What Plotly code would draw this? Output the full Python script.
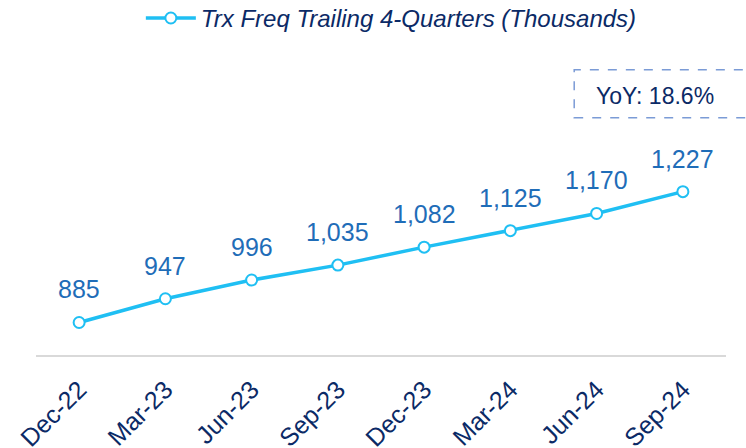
import plotly.graph_objects as go

quarters = ["Dec-22", "Mar-23", "Jun-23", "Sep-23", "Dec-23", "Mar-24", "Jun-24", "Sep-24"]
trx_freq = [885, 947, 996, 1035, 1082, 1125, 1170, 1227]
series_name = "Trx Freq Trailing 4-Quarters (Thousands)"
yoy_text = "YoY: 18.6%"

LINE = "#1fbff3"
LABEL = "#1f6db8"
NAVY = "#0b2a66"
FONT = "Liberation Sans, Arial, sans-serif"

fig = go.Figure()
fig.add_trace(go.Scatter(
    x=quarters, y=trx_freq, name=series_name,
    mode="lines+markers",
    line=dict(color=LINE, width=3.5),
    marker=dict(symbol="circle", size=11, color="white",
                line=dict(color=LINE, width=2)),
    showlegend=True,
))

# value labels above each point
for q, v in zip(quarters, trx_freq):
    fig.add_annotation(x=q, y=v, text=f"{v:,}", showarrow=False,
                       xanchor="center", yanchor="middle",
                       yshift=33, font=dict(family=FONT, size=25, color=LABEL))

# YoY callout box
fig.add_shape(type="rect", xref="paper", yref="paper",
              x0=0.78, x1=1.05, y0=0.775, y1=0.932,
              line=dict(color="#7b9bd6", width=1.5, dash="dash"),
              fillcolor="rgba(0,0,0,0)")
fig.add_annotation(xref="paper", yref="paper", x=0.897, y=0.846,
                   xanchor="center", yanchor="middle",
                   text=yoy_text, showarrow=False,
                   font=dict(family=FONT, size=23, color=NAVY))

fig.update_layout(
    width=746, height=448,
    margin=dict(l=36, r=20, t=49, b=93, autoexpand=False),
    paper_bgcolor="white", plot_bgcolor="white",
    font=dict(family=FONT, color=NAVY),
    legend=dict(orientation="h", x=0.515, xanchor="center",
                yref="paper", y=1.10, yanchor="middle",
                itemwidth=50,
                font=dict(family=FONT, size=24, color=NAVY, style="italic")),
    xaxis=dict(showgrid=False, zeroline=False, showline=True,
               range=[-0.5, 7.5], automargin=False,
               linecolor="#d9d9d9", linewidth=2, ticks="",
               ticklabelstandoff=8,
               tickangle=-45, tickfont=dict(family=FONT, size=25, color=NAVY)),
    yaxis=dict(range=[800, 1600], visible=False, showgrid=False,
               zeroline=False, automargin=False),
)

fig.write_html("out.html")
